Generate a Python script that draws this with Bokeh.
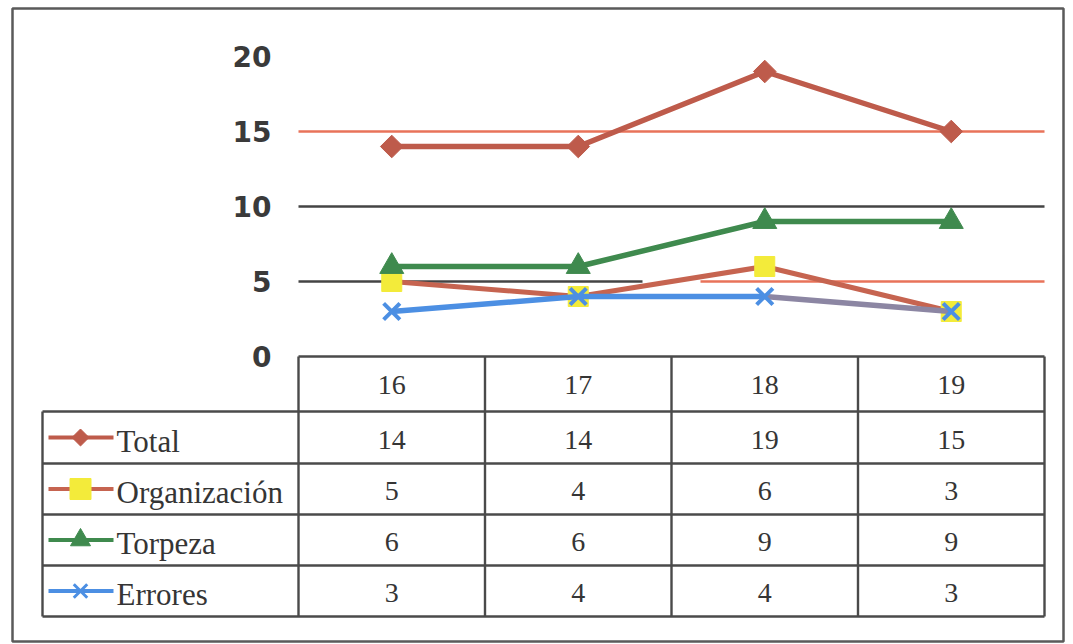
from math import pi

from bokeh.core.properties import value
from bokeh.embed import file_html
from bokeh.models import FixedTicker, LinearAxis, Range1d
from bokeh.plotting import figure
from bokeh.resources import INLINE

# ---- data -------------------------------------------------------------
ages = ["16", "17", "18", "19"]
total = [14, 14, 19, 15]
organizacion = [5, 4, 6, 3]
torpeza = [6, 6, 9, 9]
errores = [3, 4, 4, 3]
series_names = ["Total", "Organización", "Torpeza", "Errores"]
y_ticks = [0, 5, 10, 15, 20]

# ---- layout (pixels) ----------------------------------------------------
W, H = 1073, 644
X0, Y0 = 298, 356          # left edge of the first category column, y = 0 line
CAT_PX, UNIT_PX = 186.5, 15.0


def dx(px):
    return (px - X0) / CAT_PX


def dy(py):
    return (Y0 - py) / UNIT_PX


C_TOTAL = "#BE5B4B"
C_ORG = "#C66450"
C_YELLOW = "#F3EB3A"
C_GREEN = "#3F8A4E"
C_BLUE = "#4C8FE3"
C_LAST = "#8C86A3"
GRID_RED = "#E8735A"
GRID_DARK = "#444444"
RULE = "#4a4a4a"
TEXT = "#353535"
SERIF = value("Liberation Serif")

n = len(ages)
xs = [i + 0.5 for i in range(n)]

p = figure(
    width=W, height=H,
    x_range=Range1d(dx(0), dx(W)), y_range=Range1d(dy(H), dy(0)),
    x_axis_type=None, y_axis_type=None,
    output_backend="svg", toolbar_location=None,
    min_border=0, outline_line_color=None,
    background_fill_color="white", border_fill_color="white",
)

# y axis drawn at the left edge of the category columns
yaxis = LinearAxis(
    ticker=FixedTicker(ticks=y_ticks), fixed_location=0,
    axis_line_color=None, major_tick_line_color=None, minor_tick_line_color=None,
    major_tick_in=0, major_tick_out=0, major_label_standoff=27,
    major_label_text_font="DejaVu Sans", major_label_text_font_style="bold",
    major_label_text_font_size="28px", major_label_text_color="#3a3a3a",
)
p.add_layout(yaxis, "left")

# horizontal reference lines
p.segment(x0=[0, 0], y0=[15, 10], x1=[n, n], y1=[15, 10],
          line_color=[GRID_RED, GRID_DARK], line_width=2.5)
p.segment(x0=[0, dx(700)], y0=[5, 5], x1=[dx(642), n], y1=[5, 5],
          line_color=[GRID_DARK, GRID_RED], line_width=2.5)

# ---- series ------------------------------------------------------------
p.line(xs, total, line_color=C_TOTAL, line_width=5.5)
p.scatter(xs, total, marker="square", angle=pi / 4, size=16,
          fill_color=C_TOTAL, line_color=C_TOTAL)

p.line(xs, organizacion, line_color=C_ORG, line_width=5)
p.scatter(xs, organizacion, marker="square", size=20,
          fill_color=C_YELLOW, line_color=C_YELLOW)

p.line(xs, torpeza, line_color=C_GREEN, line_width=5.5)
p.scatter(xs, torpeza, marker="triangle", size=24,
          fill_color=C_GREEN, line_color=C_GREEN)

p.line(xs[:n - 1], errores[:n - 1], line_color=C_BLUE, line_width=5.5)
p.line(xs[n - 2:], errores[n - 2:], line_color=C_LAST, line_width=5.5)
p.scatter(xs, errores, marker="x", size=23, line_color=C_BLUE, line_width=4)

# ---- data table ---------------------------------------------------------
header_bottom = dy(411)
row_edges = [dy(411), dy(463), dy(514), dy(565), dy(616)]
legend_left = dx(42)

h_x0 = [0] + [legend_left] * len(row_edges)
h_x1 = [n] * (len(row_edges) + 1)
h_y = [0] + row_edges
p.segment(x0=h_x0, y0=h_y, x1=h_x1, y1=h_y, line_color=RULE, line_width=2.4)

v_x = [legend_left] + list(range(n + 1))
v_top = [header_bottom] + [0] * (n + 1)
v_bot = [row_edges[-1]] * (n + 2)
p.segment(x0=v_x, y0=v_top, x1=v_x, y1=v_bot, line_color=RULE, line_width=2.4)

p.text(xs, [dy(384)] * n, text=ages, text_font=SERIF, text_font_size="28px",
       text_color=TEXT, text_align="center", text_baseline="middle")

series = [total, organizacion, torpeza, errores]
for k, vals in enumerate(series):
    yc = (row_edges[k] + row_edges[k + 1]) / 2 - 0.15
    p.text(xs, [yc] * n, text=[str(v) for v in vals], text_font=SERIF,
           text_font_size="28px", text_color=TEXT,
           text_align="center", text_baseline="middle")

# legend keys inside the table
line_colors = [C_TOTAL, C_ORG, C_GREEN, C_BLUE]
for k, name in enumerate(series_names):
    yc = (row_edges[k] + row_edges[k + 1]) / 2
    p.segment(x0=[dx(48)], y0=[yc], x1=[dx(113)], y1=[yc],
              line_color=line_colors[k], line_width=4)
    p.text([dx(116)], [yc - 0.25], text=[name], text_font=SERIF,
           text_font_size="31px", text_color=TEXT,
           text_align="left", text_baseline="middle")

key_x = dx(80)
key_y = [(row_edges[k] + row_edges[k + 1]) / 2 for k in range(len(series_names))]
p.scatter([key_x], [key_y[0]], marker="square", angle=pi / 4, size=12,
          fill_color=C_TOTAL, line_color=C_TOTAL)
p.scatter([key_x], [key_y[1]], marker="square", size=21,
          fill_color=C_YELLOW, line_color=C_YELLOW)
p.scatter([key_x], [key_y[2]], marker="triangle", size=20,
          fill_color=C_GREEN, line_color=C_GREEN)
p.scatter([key_x], [key_y[3]], marker="x", size=19, line_color=C_BLUE, line_width=3)

# outer frame
p.quad(left=[dx(12)], right=[dx(1063)], top=[dy(8)], bottom=[dy(641)],
       fill_color=None, line_color="#5a5a5a", line_width=2.5)

open("out.html", "w").write(file_html(p, INLINE))
